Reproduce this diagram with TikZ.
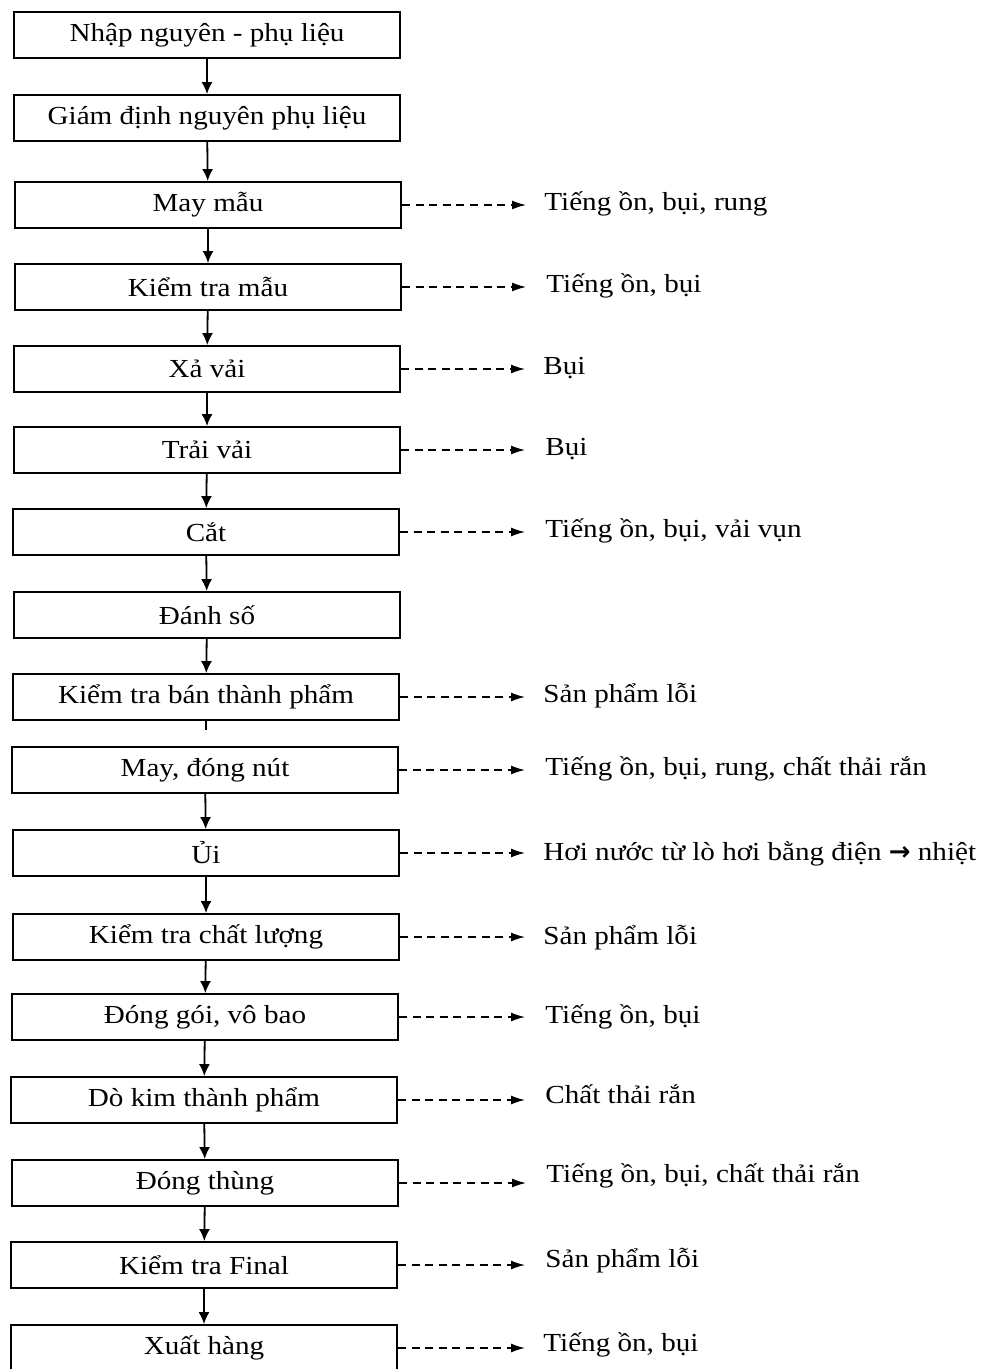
\documentclass[tikz,border=0pt]{standalone}
\usepackage{fontspec}
\setmainfont{Liberation Serif}[FakeStretch=1.12]
\newfontfamily\arrowfont{DejaVu Sans}
\usetikzlibrary{arrows.meta}

\begin{document}
\begin{tikzpicture}[x=0.5pt, y=-0.5pt,
    stepbox/.style={draw, line width=0.9pt, minimum width=193pt, minimum height=23pt,
                    inner sep=0pt, font=\fontsize{13}{15}\selectfont},
    flow/.style={-{Latex[length=6pt,width=5.5pt]}, line width=0.9pt},
    waste/.style={-{Latex[length=7pt,width=4.5pt]}, line width=0.7pt, dash pattern=on 4pt off 2.8pt},
    note/.style={anchor=west, inner sep=0pt, font=\fontsize{13}{15}\selectfont}]
    \useasboundingbox (0,0) rectangle (986,1369);
    \clip (0,0) rectangle (986,1369);

    % Process steps
    \node[stepbox] (nhap)   at (207, 35)   {Nhập nguyên - phụ liệu};
    \node[stepbox] (giam)   at (207, 118)  {Giám định nguyên phụ liệu};
    \node[stepbox] (maymau) at (208, 205)  {May mẫu};
    \node[stepbox] (ktmau)  at (208, 287)  {Kiểm tra mẫu};
    \node[stepbox] (xavai)  at (207, 369)  {Xả vải};
    \node[stepbox] (traivai) at (207, 450) {Trải vải};
    \node[stepbox] (cat)    at (206, 532)  {Cắt};
    \node[stepbox] (danhso) at (207, 615)  {Đánh số};
    \node[stepbox] (ktbtp)  at (206, 697)  {Kiểm tra bán thành phẩm};
    \node[stepbox] (maynut) at (205, 770)  {May, đóng nút};
    \node[stepbox] (ui)     at (206, 853)  {Ủi};
    \node[stepbox] (ktcl)   at (206, 937)  {Kiểm tra chất lượng};
    \node[stepbox] (donggoi) at (205, 1017) {Đóng gói, vô bao};
    \node[stepbox] (dokim)  at (204, 1100) {Dò kim thành phẩm};
    \node[stepbox] (dongthung) at (205, 1183) {Đóng thùng};
    \node[stepbox] (ktfinal) at (204, 1265) {Kiểm tra Final};
    \node[stepbox] (xuat)   at (204, 1348) {Xuất hàng};

    % Main flow
    \draw[flow] (nhap) -- (giam);
    \draw[flow] (giam) -- (maymau);
    \draw[flow] (maymau) -- (ktmau);
    \draw[flow] (ktmau) -- (xavai);
    \draw[flow] (xavai) -- (traivai);
    \draw[flow] (traivai) -- (cat);
    \draw[flow] (cat) -- (danhso);
    \draw[flow] (danhso) -- (ktbtp);
    \coordinate (stub) at ([yshift=-4.5pt]ktbtp.south);
    \draw[line width=0.9pt] (ktbtp.south) -- (stub);
    \draw[flow] (maynut) -- (ui);
    \draw[flow] (ui) -- (ktcl);
    \draw[flow] (ktcl) -- (donggoi);
    \draw[flow] (donggoi) -- (dokim);
    \draw[flow] (dokim) -- (dongthung);
    \draw[flow] (dongthung) -- (ktfinal);
    \draw[flow] (ktfinal) -- (xuat);

    % Emissions
    \node[note] (n3)  at (544, 204)  {Tiếng ồn, bụi, rung};
    \node[note] (n4)  at (546, 286)  {Tiếng ồn, bụi};
    \node[note] (n5)  at (543, 368)  {Bụi};
    \node[note] (n6)  at (545, 449)  {Bụi};
    \node[note] (n7)  at (545, 531)  {Tiếng ồn, bụi, vải vụn};
    \node[note] (n9)  at (543, 696)  {Sản phẩm lỗi};
    \node[note] (n10) at (545, 769)  {Tiếng ồn, bụi, rung, chất thải rắn};
    \node[note] (n11) at (543, 854)  {Hơi nước từ lò hơi bằng điện {\arrowfont\bfseries →} nhiệt};
    \node[note] (n12) at (543, 938)  {Sản phẩm lỗi};
    \node[note] (n13) at (545, 1017) {Tiếng ồn, bụi};
    \node[note] (n14) at (545, 1094) {Chất thải rắn};
    \node[note] (n15) at (546, 1176) {Tiếng ồn, bụi, chất thải rắn};
    \node[note] (n16) at (545, 1261) {Sản phẩm lỗi};
    \node[note] (n17) at (543, 1345) {Tiếng ồn, bụi};

    \draw[waste] (maymau.east) -- ([xshift=-9pt]n3.west |- maymau.east);
    \draw[waste] (ktmau.east) -- ([xshift=-10pt]n4.west |- ktmau.east);
    \draw[waste] (xavai.east) -- ([xshift=-9pt]n5.west |- xavai.east);
    \draw[waste] (traivai.east) -- ([xshift=-10pt]n6.west |- traivai.east);
    \draw[waste] (cat.east) -- ([xshift=-10pt]n7.west |- cat.east);
    \draw[waste] (ktbtp.east) -- ([xshift=-9pt]n9.west |- ktbtp.east);
    \draw[waste] (maynut.east) -- ([xshift=-10pt]n10.west |- maynut.east);
    \draw[waste] (ui.east) -- ([xshift=-9pt]n11.west |- ui.east);
    \draw[waste] (ktcl.east) -- ([xshift=-9pt]n12.west |- ktcl.east);
    \draw[waste] (donggoi.east) -- ([xshift=-10pt]n13.west |- donggoi.east);
    \draw[waste] (dokim.east) -- ([xshift=-10pt]n14.west |- dokim.east);
    \draw[waste] (dongthung.east) -- ([xshift=-10pt]n15.west |- dongthung.east);
    \draw[waste] (ktfinal.east) -- ([xshift=-10pt]n16.west |- ktfinal.east);
    \draw[waste] (xuat.east) -- ([xshift=-9pt]n17.west |- xuat.east);
\end{tikzpicture}
\end{document}
